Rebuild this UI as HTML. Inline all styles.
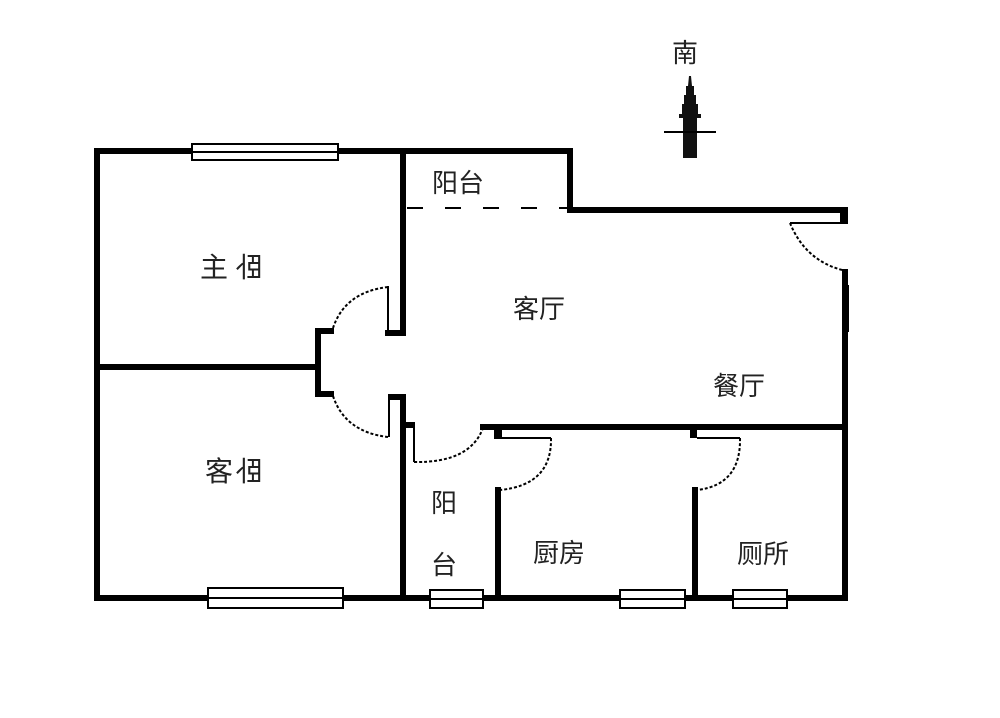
<!DOCTYPE html>
<html><head><meta charset="utf-8"><style>
html,body{margin:0;padding:0;background:#fff;}
svg{display:block}
text{font-family:"Liberation Sans","Noto Sans CJK SC",sans-serif;font-size:26px;fill:#222;}
</style></head><body>
<svg width="1000" height="718" viewBox="0 0 1000 718" xmlns="http://www.w3.org/2000/svg">
<rect width="1000" height="718" fill="#fff"/>
<g stroke="#000" stroke-width="6" fill="none" stroke-linecap="square">
<line x1="97" y1="151" x2="97" y2="598"/>
<line x1="97" y1="151" x2="570" y2="151"/>
<line x1="570" y1="151" x2="570" y2="210"/>
<line x1="570" y1="210" x2="845" y2="210"/>
<line x1="845" y1="210" x2="845" y2="221"/>
<line x1="845" y1="272" x2="845" y2="598"/>
<line x1="97" y1="598" x2="845" y2="598"/>
<line x1="97" y1="367" x2="317" y2="367"/>
<line x1="318" y1="331" x2="318" y2="394"/>
<line x1="318" y1="331" x2="331" y2="331"/>
<line x1="318" y1="394" x2="331" y2="394"/>
<line x1="403" y1="151" x2="403" y2="333"/>
<line x1="388" y1="333" x2="403" y2="333"/>
<line x1="391" y1="397" x2="403" y2="397"/>
<line x1="403" y1="397" x2="403" y2="598"/>
<line x1="403" y1="425" x2="412" y2="425"/>
<line x1="483" y1="427" x2="845" y2="427"/>
<line x1="498" y1="490" x2="498" y2="598"/>
<line x1="695" y1="490" x2="695" y2="598"/>
</g>
<g fill="#000">
<rect x="494" y="427" width="8" height="12"/>
<rect x="690" y="427" width="7" height="11"/>
<rect x="842" y="285" width="7" height="47"/>
<rect x="840" y="207" width="8" height="16"/>
</g>
<g stroke="#000" stroke-width="2" fill="none">
<line x1="388" y1="286" x2="388" y2="333"/>
<line x1="389" y1="396" x2="389" y2="437"/>
<line x1="414" y1="428" x2="414" y2="462"/>
<line x1="502" y1="438" x2="551" y2="438"/>
<line x1="697" y1="438" x2="740" y2="438"/>
<line x1="790" y1="223" x2="842" y2="223"/>
</g>
<g stroke="#000" stroke-width="2" fill="none" stroke-dasharray="3,2">
<path d="M388 287 Q345 292 333 328"/>
<path d="M333 396 Q345 432 388 437"/>
<path d="M414 462 Q470 463 483 428"/>
<path d="M551 438 Q552 485 500 490"/>
<path d="M740 438 Q741 485 697 490"/>
<path d="M790 223 Q805 260 842 270"/>
</g>
<line x1="407" y1="208" x2="570" y2="208" stroke="#000" stroke-width="2" stroke-dasharray="16,22"/>
<g fill="#fff" stroke="#000" stroke-width="2">
<rect x="192" y="144" width="146" height="16"/>
<rect x="208" y="588" width="135" height="20"/>
<rect x="430" y="590" width="53" height="18"/>
<rect x="620" y="590" width="65" height="18"/>
<rect x="733" y="590" width="54" height="18"/>
</g>
<g stroke="#000" stroke-width="2">
<line x1="192" y1="152" x2="338" y2="152"/>
<line x1="208" y1="598" x2="343" y2="598"/>
<line x1="430" y1="599" x2="483" y2="599"/>
<line x1="620" y1="599" x2="685" y2="599"/>
<line x1="733" y1="599" x2="787" y2="599"/>
</g>
<polygon points="689,76 691,76 692,86 694,86 694,95 696,95 696,104 698,104 698,114 701,114 701,118 697,118 697,158 683,158 683,118 679,118 679,114 682,114 682,104 684,104 684,95 686,95 686,86 688,86" fill="#111"/>
<line x1="664" y1="132" x2="716" y2="132" stroke="#000" stroke-width="2"/>
<text x="672" y="62">南</text>
<text x="432" y="192">阳台</text>
<text x="200" y="277" style="font-size:28px">主</text>
<text x="231" y="277" style="font-size:28px" transform="translate(494,0) scale(-1,1)">卧</text>
<text x="513" y="318">客厅</text>
<text x="713" y="395">餐厅</text>
<text x="205" y="481" style="font-size:28px">客</text>
<text x="231" y="481" style="font-size:28px" transform="translate(494,0) scale(-1,1)">卧</text>
<text x="431" y="512">阳</text>
<text x="431" y="574">台</text>
<text x="533" y="562">厨房</text>
<text x="737" y="563">厕所</text>
</svg>
</body></html>
